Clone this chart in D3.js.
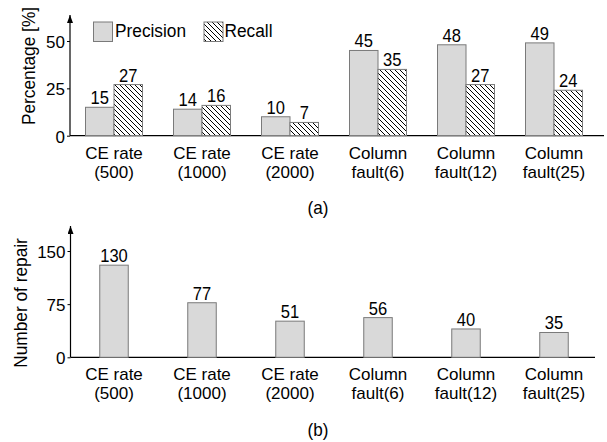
<!DOCTYPE html>
<html>
<head>
<meta charset="utf-8">
<script src="https://cdn.jsdelivr.net/npm/d3@7"></script>
<style>
  html, body { margin: 0; padding: 0; background: #fff; }
  svg text { font-family: "Liberation Sans", Arial, sans-serif; fill: #000; }
</style>
</head>
<body>
<svg id="chart" width="607" height="442"></svg>
<script>
// Categories shared by both panels (two text lines each)
const categories = ["CE rate|(500)", "CE rate|(1000)", "CE rate|(2000)",
                    "Column|fault(6)", "Column|fault(12)", "Column|fault(25)"];
// Panel (a): detection quality in percent
const precision = [15, 14, 10, 45, 48, 49];
const recall    = [27, 16, 7, 35, 27, 24];
const pctTicks  = [0, 25, 50];
// Panel (b): number of repairs
const repairs     = [130, 77, 51, 56, 40, 35];
const repairTicks = [0, 75, 150];

const svg = d3.select("#chart");
const defs = svg.append("defs");

// diagonal hatching for the Recall bars
const pat = defs.append("pattern")
  .attr("id", "hatch").attr("patternUnits", "userSpaceOnUse")
  .attr("width", 5).attr("height", 5);
pat.append("rect").attr("width", 5).attr("height", 5).attr("fill", "#fff");
pat.append("path").attr("d", "M-1,-1 L6,6 M-1,4 L1,6 M4,-1 L6,1")
  .attr("stroke", "#000").attr("stroke-width", 1);

// arrow head for the y axes
defs.append("marker").attr("id", "arrow")
  .attr("viewBox", "0 0 6 8").attr("refX", 3).attr("refY", 0)
  .attr("markerWidth", 6).attr("markerHeight", 8)
  .attr("markerUnits", "userSpaceOnUse").attr("orient", "0")
  .append("path").attr("d", "M0,8 L3,0 L6,8 Z").attr("fill", "#000");

// slightly condensed text, as in the figure's typeface
function label(g, x, y, str, size, anchor, sx = 0.91, rot = 0) {
  return g.append("text")
    .attr("transform", `translate(${x},${y})` + (rot ? ` rotate(${rot})` : "") + ` scale(${sx},1)`)
    .attr("text-anchor", anchor)
    .style("font-size", size + "px")
    .text(str);
}

const x = d3.scalePoint().domain(categories).range([114, 554]);
const bw = 28.5;
const barFill = "#d9d9d9", barStroke = "#7a7a7a";

function panel(opts) {
  const g = svg.append("g");
  const y = opts.y;
  const base = y(0);
  // y axis with arrow
  g.append("line").attr("x1", opts.ax).attr("x2", opts.ax)
    .attr("y1", base).attr("y2", opts.top + 1)
    .attr("stroke", "#000").attr("stroke-width", 1.2)
    .attr("marker-end", "url(#arrow)");
  const axis = g.append("g").attr("transform", `translate(${opts.ax},0)`)
    .call(d3.axisLeft(y).tickValues(opts.ticks).tickSize(3).tickPadding(2).tickSizeOuter(0));
  axis.select(".domain").remove();
  axis.selectAll(".tick line").attr("stroke", "#000");
  axis.selectAll(".tick text")
    .attr("font-family", "Liberation Sans, Arial, sans-serif")
    .style("font-size", "17px").attr("fill", "#000").attr("dy", "0.38em");
  // y title
  label(g, opts.titleX, opts.titleY, opts.title, 19, "middle", 0.91, -90);
  // x axis
  g.append("line").attr("x1", opts.ax).attr("x2", opts.xEnd)
    .attr("y1", base).attr("y2", base).attr("stroke", "#000").attr("stroke-width", 1.2);
  // two-line category labels
  categories.forEach(c => {
    const [l1, l2] = c.split("|");
    label(g, x(c), base + 23, l1, 17, "middle", 1);
    label(g, x(c), base + 42, l2, 17, "middle", 1);
  });
  return g;
}

// ---------- panel (a) ----------
const yA = d3.scaleLinear().domain([0, 50]).range([135.7, 41]);
const gA = panel({ y: yA, ax: 70, top: 14, ticks: pctTicks, xEnd: 604,
  title: "Percentage [%]", titleX: 35.3, titleY: 66 });

gA.selectAll(".prec").data(precision).join("rect")
  .attr("x", (d, i) => x(categories[i]) - bw).attr("y", d => yA(d))
  .attr("width", bw).attr("height", d => yA(0) - yA(d))
  .attr("fill", barFill).attr("stroke", barStroke);
gA.selectAll(".rec").data(recall).join("rect")
  .attr("x", (d, i) => x(categories[i])).attr("y", d => yA(d))
  .attr("width", bw).attr("height", d => yA(0) - yA(d))
  .attr("fill", "url(#hatch)").attr("stroke", barStroke);
precision.forEach((v, i) => label(gA, x(categories[i]) - bw / 2, yA(v) - 3, v, 18, "middle", 0.92));
recall.forEach((v, i) => label(gA, x(categories[i]) + bw / 2, yA(v) - 3, v, 18, "middle", 0.92));

// legend
gA.append("rect").attr("x", 93.5).attr("y", 22).attr("width", 19).attr("height", 19.5)
  .attr("fill", barFill).attr("stroke", barStroke);
label(gA, 115, 36.7, "Precision", 19, "start");
gA.append("rect").attr("x", 204).attr("y", 22).attr("width", 19).attr("height", 19.5)
  .attr("fill", "url(#hatch)").attr("stroke", barStroke);
label(gA, 224.5, 36.7, "Recall", 19, "start");
label(gA, 318, 214, "(a)", 18, "middle", 0.95);

// ---------- panel (b) ----------
const yB = d3.scaleLinear().domain([0, 150]).range([357.3, 251]);
const gB = panel({ y: yB, ax: 70.5, top: 225, ticks: repairTicks, xEnd: 595,
  title: "Number of repair", titleX: 27, titleY: 303 });

gB.selectAll(".rep").data(repairs).join("rect")
  .attr("x", (d, i) => x(categories[i]) - bw / 2).attr("y", d => yB(d))
  .attr("width", bw).attr("height", d => yB(0) - yB(d))
  .attr("fill", barFill).attr("stroke", barStroke);
repairs.forEach((v, i) => label(gB, x(categories[i]), yB(v) - 3, v, 18, "middle", 0.92));
label(gB, 318, 436, "(b)", 18, "middle", 0.95);
</script>
</body>
</html>
